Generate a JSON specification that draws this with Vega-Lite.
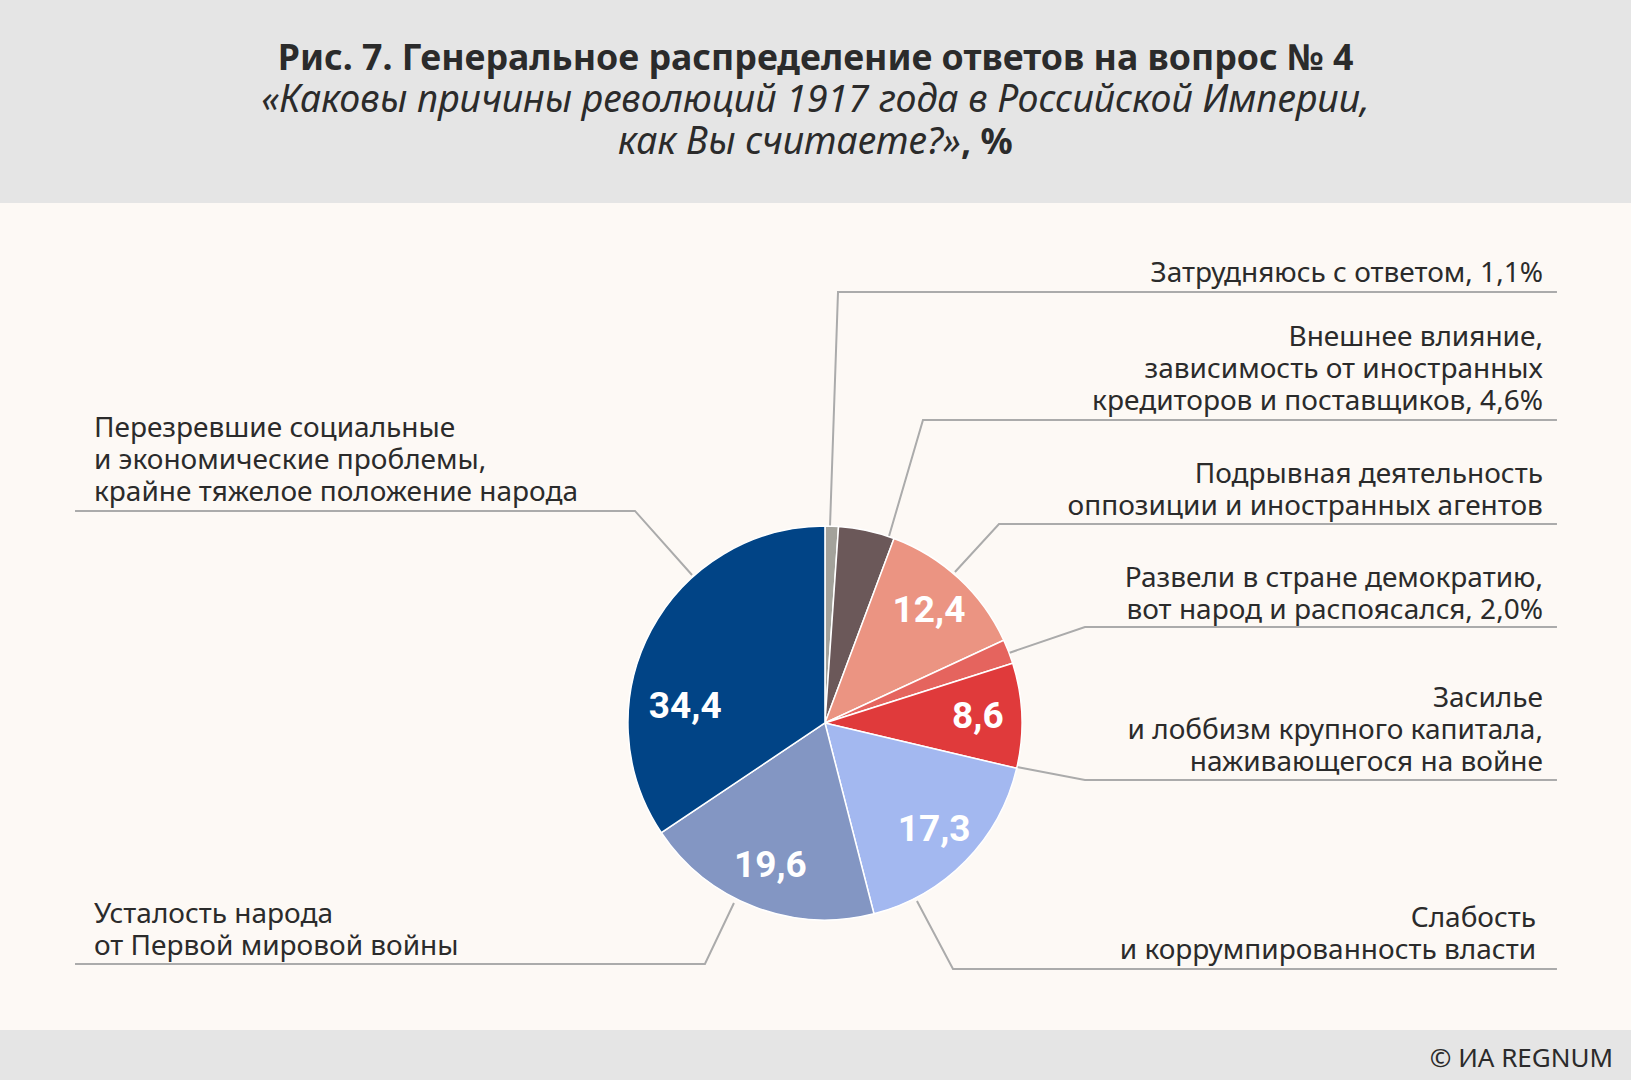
{
  "$schema": "https://vega.github.io/schema/vega-lite/v6.json",
  "width": 1631,
  "height": 1080,
  "autosize": {"type": "none"},
  "padding": 0,
  "background": "#fdf9f5",
  "config": {"view": {"stroke": null}, "axis": {"disable": true}, "legend": {"disable": true}},
  "datasets": {
    "pie": [
      {"name": "Затрудняюсь с ответом", "value": 1.1, "ord": 1, "lbl": ""},
      {"name": "Внешнее влияние", "value": 4.6, "ord": 2, "lbl": ""},
      {"name": "Подрывная деятельность", "value": 12.4, "ord": 3, "lbl": "12,4"},
      {"name": "Развели в стране демократию", "value": 2.0, "ord": 4, "lbl": ""},
      {"name": "Засилье крупного капитала", "value": 8.6, "ord": 5, "lbl": "8,6"},
      {"name": "Слабость власти", "value": 17.3, "ord": 6, "lbl": "17,3"},
      {"name": "Усталость народа", "value": 19.6, "ord": 7, "lbl": "19,6"},
      {"name": "Перезревшие проблемы", "value": 34.4, "ord": 8, "lbl": "34,4"}
    ],
    "leaders": [
      {"id": 1, "s": 1, "x": 50.89, "y": 48.70}, {"id": 1, "s": 2, "x": 51.38, "y": 27.04}, {"id": 1, "s": 3, "x": 95.46, "y": 27.04},
      {"id": 2, "s": 1, "x": 54.51, "y": 49.63}, {"id": 2, "s": 2, "x": 56.59, "y": 38.89}, {"id": 2, "s": 3, "x": 95.46, "y": 38.89},
      {"id": 3, "s": 1, "x": 58.55, "y": 52.96}, {"id": 3, "s": 2, "x": 61.25, "y": 48.52}, {"id": 3, "s": 3, "x": 95.46, "y": 48.52},
      {"id": 4, "s": 1, "x": 61.86, "y": 60.46}, {"id": 4, "s": 2, "x": 66.52, "y": 58.06}, {"id": 4, "s": 3, "x": 95.46, "y": 58.06},
      {"id": 5, "s": 1, "x": 62.35, "y": 71.02}, {"id": 5, "s": 2, "x": 66.52, "y": 72.22}, {"id": 5, "s": 3, "x": 95.46, "y": 72.22},
      {"id": 6, "s": 1, "x": 56.22, "y": 83.43}, {"id": 6, "s": 2, "x": 58.43, "y": 89.72}, {"id": 6, "s": 3, "x": 95.46, "y": 89.72},
      {"id": 7, "s": 1, "x": 45.00, "y": 83.61}, {"id": 7, "s": 2, "x": 43.22, "y": 89.26}, {"id": 7, "s": 3, "x": 4.60, "y": 89.26},
      {"id": 8, "s": 1, "x": 42.43, "y": 53.24}, {"id": 8, "s": 2, "x": 38.93, "y": 47.31}, {"id": 8, "s": 3, "x": 4.60, "y": 47.31}
    ],
    "labels": [
      {"side": "R", "x": 94.60, "y": 26.11, "t": ["Затрудняюсь с ответом, 1,1%"]},
      {"side": "R", "x": 94.60, "y": 32.04, "t": ["Внешнее влияние,", "зависимость от иностранных", "кредиторов и поставщиков, 4,6%"]},
      {"side": "R", "x": 94.60, "y": 44.72, "t": ["Подрывная деятельность", "оппозиции и иностранных агентов"]},
      {"side": "R", "x": 94.60, "y": 54.35, "t": ["Развели в стране демократию,", "вот народ и распоясался, 2,0%"]},
      {"side": "R", "x": 94.60, "y": 65.46, "t": ["Засилье", "и лоббизм крупного капитала,", "наживающегося на войне"]},
      {"side": "R", "x": 94.18, "y": 85.83, "t": ["Слабость", "и коррумпированность власти"]},
      {"side": "L", "x": 5.76, "y": 85.46, "t": ["\u00a0Усталость народа", "от Первой мировой войны"]},
      {"side": "L", "x": 5.76, "y": 40.46, "t": ["Перезревшие социальные", "и экономические проблемы,", "крайне тяжелое положение народа"]}
    ]
  },
  "layer": [
    {
      "data": {"values": [{"band": "header"}]},
      "mark": {"type": "rect", "color": "#e5e5e5"},
      "encoding": {
        "x": {"datum": 0, "type": "quantitative", "scale": {"domain": [0, 100], "nice": false, "zero": false}, "axis": null},
        "x2": {"datum": 100},
        "y": {"datum": 0, "type": "quantitative", "scale": {"domain": [0, 100], "nice": false, "zero": false, "reverse": true}, "axis": null},
        "y2": {"datum": 18.8}
      }
    },
    {
      "data": {"values": [{"band": "footer"}]},
      "mark": {"type": "rect", "color": "#e5e5e5"},
      "encoding": {
        "x": {"datum": 0, "type": "quantitative"},
        "x2": {"datum": 100},
        "y": {"datum": 95.37, "type": "quantitative"},
        "y2": {"datum": 100}
      }
    },
    {
      "data": {"values": [{"t": "Рис. 7. Генеральное распределение ответов на вопрос № 4"}]},
      "mark": {"type": "text", "font": "Noto Sans", "fontWeight": "bold", "fontSize": 35.7, "color": "#2b2b2b", "align": "center", "baseline": "alphabetic"},
      "encoding": {"x": {"datum": 50, "type": "quantitative"}, "y": {"datum": 6.48, "type": "quantitative"}, "text": {"field": "t"}}
    },
    {
      "data": {"values": [{"t": "«Каковы причины революций 1917 года в Российской Империи,"}]},
      "mark": {"type": "text", "font": "Noto Sans", "fontStyle": "italic", "fontSize": 37.5, "color": "#2b2b2b", "align": "center", "baseline": "alphabetic"},
      "encoding": {"x": {"datum": 50, "type": "quantitative"}, "y": {"datum": 10.37, "type": "quantitative"}, "text": {"field": "t"}}
    },
    {
      "data": {"values": [{"t": "как Вы считаете?»"}]},
      "mark": {"type": "text", "font": "Noto Sans", "fontStyle": "italic", "fontSize": 37.5, "color": "#2b2b2b", "align": "right", "baseline": "alphabetic"},
      "encoding": {"x": {"datum": 58.92, "type": "quantitative"}, "y": {"datum": 14.26, "type": "quantitative"}, "text": {"field": "t"}}
    },
    {
      "data": {"values": [{"t": ", %"}]},
      "mark": {"type": "text", "font": "Noto Sans", "fontWeight": "bold", "fontSize": 35.7, "color": "#2b2b2b", "align": "left", "baseline": "alphabetic"},
      "encoding": {"x": {"datum": 58.92, "type": "quantitative"}, "y": {"datum": 14.26, "type": "quantitative"}, "text": {"field": "t"}}
    },
    {
      "data": {"values": [{"t": "© ИА REGNUM"}]},
      "mark": {"type": "text", "font": "Noto Sans", "fontSize": 26, "color": "#2b2b2b", "align": "right", "baseline": "alphabetic"},
      "encoding": {"x": {"datum": 98.9, "type": "quantitative"}, "y": {"datum": 98.8, "type": "quantitative"}, "text": {"field": "t"}}
    },
    {
      "data": {"name": "leaders"},
      "mark": {"type": "line", "color": "#ababab", "strokeWidth": 2},
      "encoding": {
        "x": {"field": "x", "type": "quantitative"},
        "y": {"field": "y", "type": "quantitative"},
        "detail": {"field": "id", "type": "nominal"},
        "order": {"field": "s", "type": "quantitative"}
      }
    },
    {
      "data": {"name": "labels"},
      "transform": [{"filter": "datum.side === 'R'"}],
      "mark": {"type": "text", "font": "Noto Sans", "fontSize": 28, "lineHeight": 32, "color": "#2b2b2b", "align": "right", "baseline": "alphabetic"},
      "encoding": {
        "x": {"field": "x", "type": "quantitative"},
        "y": {"field": "y", "type": "quantitative"},
        "text": {"field": "t", "type": "nominal"}
      }
    },
    {
      "data": {"name": "labels"},
      "transform": [{"filter": "datum.side === 'L'"}],
      "mark": {"type": "text", "font": "Noto Sans", "fontSize": 28, "lineHeight": 32, "color": "#2b2b2b", "align": "left", "baseline": "alphabetic"},
      "encoding": {
        "x": {"field": "x", "type": "quantitative"},
        "y": {"field": "y", "type": "quantitative"},
        "text": {"field": "t", "type": "nominal"}
      }
    },
    {
      "data": {"name": "pie"},
      "encoding": {
        "x": {"datum": 50.58, "type": "quantitative"},
        "y": {"datum": 66.94, "type": "quantitative"},
        "theta": {"field": "value", "type": "quantitative", "stack": true},
        "order": {"field": "ord", "type": "quantitative"}
      },
      "layer": [
        {
          "mark": {"type": "arc", "outerRadius": 197, "stroke": "#ffffff", "strokeWidth": 1.5},
          "encoding": {
            "color": {
              "field": "name", "type": "nominal", "legend": null,
              "scale": {
                "domain": ["Затрудняюсь с ответом", "Внешнее влияние", "Подрывная деятельность", "Развели в стране демократию", "Засилье крупного капитала", "Слабость власти", "Усталость народа", "Перезревшие проблемы"],
                "range": ["#a3a29b", "#6b5859", "#eb9482", "#e5645e", "#e03a3b", "#a3b8f0", "#8396c3", "#014486"]
              }
            }
          }
        },
        {
          "mark": {"type": "text", "radius": 153, "font": "Roboto", "fontWeight": "bold", "fontSize": 37, "color": "#ffffff", "align": "center", "baseline": "middle"},
          "encoding": {
            "detail": {"field": "name", "type": "nominal"},
            "text": {"condition": {"test": "datum.ord === 8", "value": ""}, "field": "lbl", "type": "nominal"}
          }
        },
        {
          "mark": {"type": "text", "radius": 155, "dy": 57, "dx": -3, "font": "Roboto", "fontWeight": "bold", "fontSize": 37, "color": "#ffffff", "align": "center", "baseline": "middle"},
          "encoding": {
            "detail": {"field": "name", "type": "nominal"},
            "text": {"condition": {"test": "datum.ord === 8", "field": "lbl", "type": "nominal"}, "value": ""}
          }
        }
      ]
    }
  ]
}
